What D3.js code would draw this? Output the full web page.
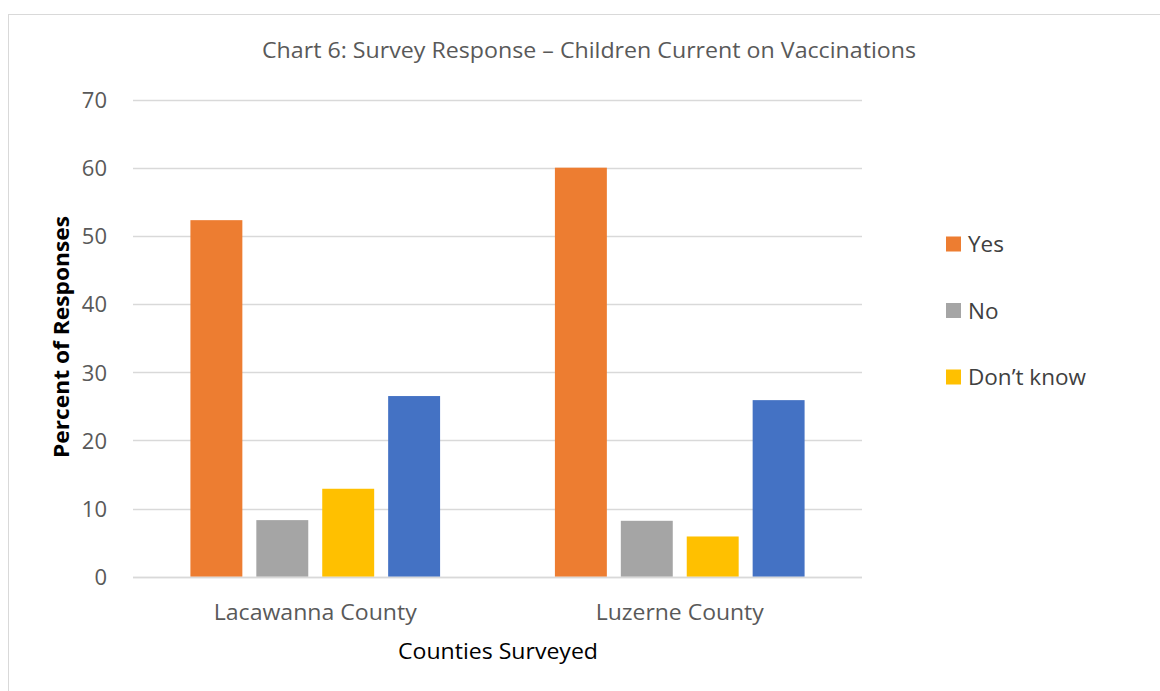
<!DOCTYPE html>
<html>
<head>
<meta charset="utf-8">
<script src="https://cdn.jsdelivr.net/npm/d3@7"></script>
<style>
  html, body { margin: 0; padding: 0; background: #fff; }
  svg { display: block; font-family: "Open Sans", "Noto Sans", sans-serif; }
</style>
</head>
<body>
<svg id="chart" width="1160" height="691"></svg>
<script>
// Survey data: percent of responses per county
const counties = ["Lacawanna County", "Luzerne County"];
const seriesNames = ["Yes", "No", "Don\u2019t know", "Other"];
const yesValues = [52.3, 60.0];
const noValues = [8.3, 8.2];
const dontKnowValues = [12.9, 5.9];
const otherValues = [26.5, 25.9];
const legendNames = ["Yes", "No", "Don\u2019t know"];
const yTicks = [0, 10, 20, 30, 40, 50, 60, 70];

const seriesValues = [yesValues, noValues, dontKnowValues, otherValues];
const colors = ["#ED7D31", "#A5A5A5", "#FFC000", "#4472C4"];

const svg = d3.select("#chart");

// outer chart frame
svg.append("rect")
  .attr("x", 8.5).attr("y", 14.5)
  .attr("width", 1170).attr("height", 700)
  .attr("fill", "none").attr("stroke", "#D9D9D9").attr("stroke-width", 1);

const plot = { left: 133, right: 862, top: 99.5, bottom: 576.7 };

const y = d3.scaleLinear().domain([0, 70]).range([plot.bottom, plot.top]);
const x0 = d3.scaleBand().domain(counties).range([plot.left, plot.right]);
const x1 = d3.scaleBand().domain(seriesNames)
  .range([0, x0.bandwidth()])
  .paddingInner(0.212).paddingOuter(0.871);

// gridlines
svg.append("g")
  .selectAll("line").data(yTicks).join("line")
  .attr("x1", plot.left).attr("x2", plot.right)
  .attr("y1", d => Math.round(y(d)) + 0.5).attr("y2", d => Math.round(y(d)) + 0.5)
  .attr("stroke", "#D9D9D9").attr("stroke-width", 1.5);

// y axis tick labels
const yAxis = d3.axisLeft(y).tickValues(yTicks).tickSize(0).tickPadding(0);
const gy = svg.append("g").attr("transform", `translate(107,0)`).call(yAxis);
gy.select(".domain").remove();
gy.selectAll("text")
  .attr("font-size", 22).attr("fill", "#595959")
  .attr("font-family", "'Open Sans', sans-serif")
  .attr("dy", "0.36em");

// bars
const rows = counties.map((c, i) => ({ county: c, values: seriesNames.map((s, j) => ({ s, j, v: seriesValues[j][i] })) }));
svg.append("g")
  .selectAll("g").data(rows).join("g")
  .attr("transform", d => `translate(${x0(d.county)},0)`)
  .selectAll("rect").data(d => d.values).join("rect")
  .attr("x", d => x1(d.s))
  .attr("width", x1.bandwidth())
  .attr("y", d => y(d.v))
  .attr("height", d => y(0) - y(d.v))
  .attr("fill", d => colors[d.j]);

// baseline redraw over bars
svg.append("line")
  .attr("x1", plot.left).attr("x2", plot.right)
  .attr("y1", Math.round(y(0)) + 0.5).attr("y2", Math.round(y(0)) + 0.5)
  .attr("stroke", "#D9D9D9").attr("stroke-width", 1.5);

// x axis category labels
const xAxis = d3.axisBottom(x0).tickSize(0).tickPadding(0);
const gx = svg.append("g").attr("transform", `translate(0,${plot.bottom})`).call(xAxis);
gx.select(".domain").remove();
gx.selectAll("text")
  .attr("font-size", 22).attr("fill", "#595959")
  .attr("font-family", "'Open Sans', sans-serif")
  .attr("y", 43).attr("dy", 0)
  .attr("textLength", 203).attr("lengthAdjust", "spacingAndGlyphs");
gx.selectAll("text").filter(d => d === "Luzerne County").attr("textLength", 168);

// title
svg.append("text")
  .attr("x", 589).attr("y", 58)
  .attr("text-anchor", "middle")
  .attr("font-size", 21).attr("fill", "#595959")
  .attr("textLength", 654).attr("lengthAdjust", "spacingAndGlyphs")
  .text("Chart 6: Survey Response \u2013 Children Current on Vaccinations");

// axis titles
svg.append("text")
  .attr("x", 498).attr("y", 659)
  .attr("text-anchor", "middle")
  .attr("font-size", 21).attr("fill", "#000")
  .attr("textLength", 200).attr("lengthAdjust", "spacingAndGlyphs")
  .text("Counties Surveyed");

svg.append("text")
  .attr("transform", "translate(69,337) rotate(-90)")
  .attr("text-anchor", "middle")
  .attr("font-size", 21).attr("font-weight", "bold").attr("fill", "#000")
  .attr("textLength", 242).attr("lengthAdjust", "spacingAndGlyphs")
  .text("Percent of Responses");

// legend
const legend = svg.append("g").selectAll("g").data(legendNames).join("g")
  .attr("transform", (d, i) => `translate(946,${244 + i * 66.5})`);
legend.append("rect")
  .attr("x", 0).attr("y", -7.5).attr("width", 15).attr("height", 15)
  .attr("fill", (d, i) => colors[i]);
legend.append("text")
  .attr("x", 22).attr("y", 0).attr("dy", "0.36em")
  .attr("font-size", 22.5).attr("fill", "#404040")
  .text(d => d);
</script>
</body>
</html>
